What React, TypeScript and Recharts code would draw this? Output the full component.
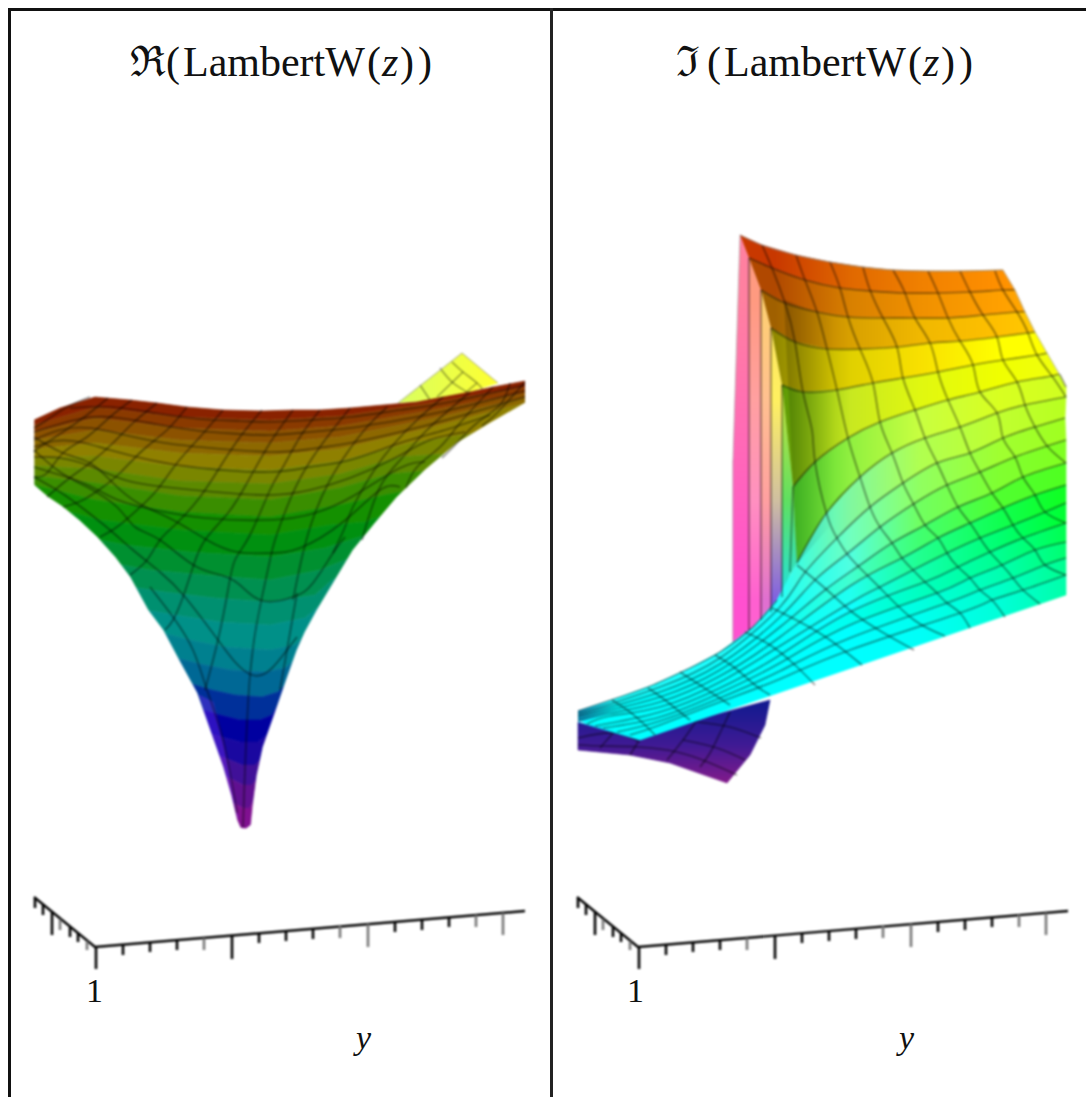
import React from "react";
import { ScatterChart, Scatter, XAxis, YAxis } from "recharts";

type Pt = [number, number];

const reContours: Pt[][] = [
  [[34,420],[60,408],[95,397],[130,400],[157,403],[187,407],[223,410],[262,411],[293,410],[320,410],[350,408],[383,405],[417,402],[443,397],[470,392],[493,387],[525,381]],
  [[34,425],[95,407],[180,417],[270,420],[340,416],[410,406],[525,387]],
  [[34,432],[95,418],[180,428],[270,431],[340,426],[415,413],[525,393]],
  [[34,440],[95,430],[180,440],[270,443],[340,437],[420,421],[525,398]],
  [[34,449],[95,443],[180,453],[270,456],[340,449],[425,429],[525,403]],
  [[34,458],[95,456],[180,467],[270,470],[340,461],[410,443],[470,432]],
  [[34,466],[95,469],[180,481],[270,484],[340,474],[400,457],[445,453]],
  [[34,476],[95,483],[180,496],[270,500],[340,488],[390,474],[425,470]],
  [[34,485],[95,500],[180,512],[270,517],[340,505],[385,495],[405,489]],
  [[63,507],[100,520],[180,530],[270,535],[330,525],[365,522],[385,510]],
  [[97,537],[125,545],[190,552],[270,557],[325,548],[350,540],[370,530]],
  [[118,562],[150,570],[205,575],[270,580],[320,570],[345,560],[354,549]],
  [[130,585],[165,592],[215,598],[270,602],[315,595],[332,580],[337,573]],
  [[146,608],[175,615],[220,622],[270,625],[305,618],[318,607],[322,602]],
  [[163,630],[190,640],[225,647],[270,650],[295,645],[306,635],[310,625]],
  [[176,655],[200,664],[230,670],[265,672],[285,668],[295,660],[299,648]],
  [[190,680],[212,690],[235,695],[262,697],[278,692],[285,685],[288,675]],
  [[200,705],[220,715],[240,720],[260,720],[272,715],[278,705],[280,698]],
  [[208,730],[225,738],[240,742],[258,742],[267,735],[272,725],[273,718]],
  [[215,750],[230,760],[242,765],[255,765],[263,757],[265,745],[267,738]],
  [[222,770],[233,780],[243,785],[252,785],[258,778],[260,768],[262,758]],
  [[230,795],[237,805],[243,808],[250,808],[254,800],[255,790],[257,780]],
  [[237,820],[240,827],[243,828],[248,828],[251,825],[252,822],[253,805]],
];
const reBandColors = [
  "#8a2200","#8a3a00","#8c5200","#8d6800","#8f8000","#7a8600","#5c8a00","#3a8e00","#149000",
  "#009010","#009030","#009050","#009070","#009088","#00808f","#006895","#00309a","#0000a0",
  "#1a08a0","#401098","#601090","#801090",
];
const reSilhouetteLeft: Pt[] = [[34,485],[48,497],[63,507],[80,521],[97,537],[115,557],[130,577],[148,610],[163,630],[180,662],[197,693],[210,730],[223,767],[231,795],[237,820],[240,827]];
const reSilhouetteRight: Pt[] = [[525,403],[490,423],[457,443],[425,470],[397,497],[375,523],[353,550],[335,580],[317,610],[305,632],[297,650],[287,678],[277,707],[270,727],[263,747],[257,775],[253,805],[251,825],[247,828]];

// mesh lines of the left surface
const reMeshDown: Pt[][] = [
  [[293,600],[303,553],[315,513],[330,480],[347,453],[367,427],[387,407]],
  [[297,593],[287,650],[280,690]],
  [[333,553],[345,527],[353,507],[373,472],[393,445],[417,420],[443,397]],
  [[362,540],[380,487],[403,457],[427,430],[470,392]],
  [[406,488],[417,467],[440,447],[460,423],[493,387]],
  [[442,458],[457,443],[477,423],[500,405],[510,383]],
  [[482,426],[497,413],[525,382]],
  [[350,408],[325,440],[303,473],[287,507],[275,540],[270,560],[262,597],[250,675],[243,827]],
  [[320,410],[300,437],[283,467],[270,490],[250,535],[235,560],[228,590],[218,640],[205,690]],
  [[293,410],[270,443],[247,483],[228,513],[205,540],[193,567],[183,597],[173,620],[165,630]],
  [[262,410],[240,437],[220,467],[200,497],[177,523],[160,540],[147,560],[130,575]],
  [[223,410],[200,437],[177,463],[157,490],[137,510],[117,527],[100,537]],
  [[187,407],[167,430],[143,450],[120,473],[103,487],[83,500],[63,507]],
  [[157,403],[133,423],[113,443],[90,463],[67,480],[47,497]],
  [[132,400],[110,417],[87,437],[63,453],[47,473],[34,477]],
  [[108,398],[87,415],[63,432],[40,447],[34,452]],
  [[90,397],[67,407],[47,420],[34,428]],
  [[150,587],[173,617],[193,650],[207,690],[223,740],[237,813]],
];
const reMeshAcross: Pt[][] = [
  [[70,408],[110,407],[155,413],[200,419],[240,421],[270,422],[310,420],[350,417],[400,410],[450,402],[525,385]],
  [[34,432],[75,420],[110,417],[155,424],[200,431],[240,434],[270,435],[310,432],[350,428],[400,420],[450,410],[525,391]],
  [[34,440],[60,430],[90,428],[125,435],[165,443],[210,448],[270,452],[310,449],[350,443],[400,432],[450,419],[525,397]],
  [[34,447],[55,441],[80,442],[110,450],[150,460],[200,468],[270,472],[310,467],[350,460],[400,443],[445,430],[490,415]],
  [[34,457],[60,458],[90,466],[125,480],[165,487],[215,492],[270,495],[310,490],[350,478],[395,458],[430,440],[465,432]],
  [[34,467],[60,475],[88,485],[118,500],[155,510],[205,518],[270,520],[315,513],[355,495],[400,468],[425,462]],
  [[34,437],[63,453],[90,463],[113,483],[138,503],[173,520],[207,540],[237,552],[270,553],[300,548],[343,522],[380,490],[400,487]],
  [[34,450],[60,472],[87,487],[117,507],[135,527],[160,540],[197,567],[233,580],[260,600],[293,597],[313,583],[333,553],[345,537]],
  [[34,477],[60,492],[85,510],[110,530],[133,550],[160,572],[185,597],[218,640],[235,662],[252,675],[270,670],[287,650],[297,637]],
];
const reFlap: Pt[] = [[398,403],[462,353],[498,383],[470,392],[417,402]];
const reFlapMesh: Pt[][] = [
  [[420,385],[430,400]],
  [[452,362],[463,372],[477,383],[483,390]],
  [[440,368],[452,382],[467,392]],
  [[463,372],[437,397]],
  [[477,383],[463,395]],
];
const reVioletSide: Pt[] = [[199,695],[213,702],[225,750],[238,818],[231,795],[218,760]];

// ---- right surface: mesh arcs, each from the wall or sheet to the right edge
const imTopEdge: Pt[] = [[740,235],[762,245],[796,255],[830,262],[863,267],[893,270],[928,271],[960,271],[1003,270]];
const imArcs: Pt[][] = [
  [[749,258],[772,268],[805,280],[840,288],[870,291],[905,293],[938,293],[970,292],[1003,290],[1015,290]],
  [[761,290],[785,303],[817,312],[848,317],[883,318],[915,318],[948,318],[983,315],[1017,312],[1025,312]],
  [[771,328],[795,342],[827,349],[860,349],[897,347],[930,343],[960,341],[997,337],[1028,333],[1035,332]],
  [[782,385],[803,392],[837,390],[873,383],[903,378],[938,372],[973,365],[1003,360],[1037,355],[1047,353]],
  [[793,487],[815,462],[848,438],[880,422],[915,410],[948,400],[980,392],[1017,382],[1052,376],[1060,375],[1066,387]],
  [[797,563],[825,515],[860,477],[892,453],[925,438],[960,427],[997,413],[1025,405],[1066,397]],
];
const imSheetTop: Pt[] = [[578,711],[620,697],[653,685],[690,668],[720,652],[753,627],[777,600]];
const imSheetArcs: Pt[][] = [
  [[578,713],[610,704],[660,687],[720,658],[780,607],[803,575],[837,538],[870,507],[903,483],[937,463],[970,453],[1003,438],[1035,427],[1065,418]],
  [[578,715],[610,707],[660,692],[720,664],[780,617],[815,580],[848,553],[880,527],[915,503],[947,485],[980,472],[1015,457],[1066,440]],
  [[578,717],[610,710],[660,697],[720,670],[780,627],[825,590],[860,565],[892,543],[925,525],[958,507],[992,493],[1023,477],[1066,463]],
  [[578,720],[610,713],[660,702],[720,676],[780,637],[850,586],[902,558],[938,538],[970,523],[1003,508],[1035,495],[1066,485]],
  [[587,724],[610,716],[660,707],[720,682],[780,646],[850,603],[880,587],[913,570],[947,553],[980,538],[1013,525],[1045,512],[1066,503]],
  [[595,726],[660,712],[720,688],[780,655],[850,612],[925,582],[958,567],[990,552],[1023,538],[1066,523]],
  [[603,728],[660,717],[720,693],[780,663],[850,625],[937,593],[970,578],[1002,565],[1035,550],[1066,542]],
  [[617,732],[660,721],[720,698],[780,671],[850,638],[947,603],[980,590],[1013,578],[1045,565],[1066,558]],
  [[630,735],[660,725],[720,702],[780,679],[850,650],[960,613],[992,600],[1023,590],[1066,575]],
];
const imBottomEdge: Pt[] = [[578,722],[640,740],[1066,595]];
const imRightEdge: Pt[] = [[1003,270],[1015,290],[1025,312],[1035,332],[1047,353],[1060,375],[1066,387]];

// colours of the bands between arcs, sampled at imStopX from left to right
const imStopX = [775, 850, 920, 1000, 1066];
const imBandColors = [
  ["#c83800","#e06800","#f08000","#ff9000","#ffa000"],
  ["#b04800","#d88000","#f09000","#ffa000","#ffb000"],
  ["#a06000","#d8a000","#f0b800","#ffc000","#ffd000"],
  ["#908800","#e0d000","#f8e000","#ffff00","#ffff00"],
  ["#509000","#c8e820","#e0f810","#f0ff00","#f0ff10"],
  ["#30c020","#90f040","#c8ff40","#d8ff20","#d0ff20"],
  ["#20ffff","#80f8a0","#b0ff50","#c0ff30","#b8ff20"],
  ["#10ffff","#70ffc0","#90ff60","#a0ff30","#a0ff20"],
  ["#00ffff","#50ffe0","#70ff60","#80ff30","#80ff20"],
  ["#00ffff","#40ffd0","#40ff70","#50ff30","#50ff20"],
  ["#00ffff","#20fff0","#20ff90","#10ff50","#10ff20"],
  ["#00ffff","#10ffff","#10ffb0","#00ff70","#00ff30"],
  ["#00ffff","#00fff0","#00ffc0","#00ff90","#00ff50"],
  ["#00ffff","#00ffff","#00ffe0","#00ffb0","#00ff70"],
  ["#00ffff","#00ffff","#00fff0","#00ffc8","#00ff90"],
  ["#00ffff","#00ffff","#00fff8","#00ffd8","#00ffa8"],
];

// mesh lines of the right surface running from the top or sheet edge down to the bottom edge
const imMeshDown: Pt[][] = [
  [[762,245],[772,268],[785,303],[795,342],[803,392],[812,430],[815,462],[827,515],[837,538],[848,555],[867,575],[885,593],[914,620],[945,636]],
  [[796,255],[805,280],[817,312],[827,349],[837,390],[848,438],[860,477],[870,507],[880,527],[892,543],[902,558],[913,570],[925,582],[937,593],[947,603],[960,613],[970,628]],
  [[830,262],[840,288],[848,317],[860,349],[873,383],[880,422],[892,453],[903,483],[913,503],[925,525],[938,538],[947,553],[958,567],[970,578],[980,590],[992,600],[1005,617]],
  [[863,267],[870,290],[883,318],[897,347],[903,378],[915,410],[925,438],[937,463],[947,485],[958,507],[970,523],[980,538],[990,552],[1002,565],[1013,578],[1023,590],[1040,604]],
  [[893,270],[905,293],[915,318],[930,343],[938,372],[948,400],[960,427],[970,453],[980,472],[992,493],[1003,508],[1013,525],[1023,538],[1035,550],[1045,565],[1066,575]],
  [[928,271],[938,293],[948,318],[960,341],[973,365],[980,392],[997,413],[1003,438],[1015,457],[1023,477],[1035,495],[1045,512],[1066,523]],
  [[960,271],[970,292],[983,315],[997,337],[1003,360],[1017,382],[1025,405],[1035,427],[1048,447],[1066,463]],
  [[995,271],[1003,290],[1017,312],[1028,333],[1037,355],[1052,376],[1066,397]],
  [[797,565],[827,590],[852,612],[882,632],[914,650]],
  [[772,608],[800,622],[830,640],[862,665]],
  [[745,632],[770,645],[795,665],[815,685]],
  [[715,655],[735,668],[755,685],[770,695]],
  [[680,672],[700,685],[715,695],[730,705]],
  [[648,688],[665,700],[680,712],[690,720]],
  [[612,700],[630,712],[645,725],[655,735]],
];

// the pink wall: strips between the arcs as they drop, top to bottom colours
const imWallStrips: Pt[][] = [
  [[740,235],[749,258],[749,630],[733,642],[733,460]],
  [[749,258],[761,290],[761,620],[749,630]],
  [[761,290],[771,328],[771,612],[761,620]],
  [[771,328],[782,385],[782,597],[771,612]],
  [[782,385],[793,487],[797,563],[790,575],[782,597]],
];
const imWallColors = [
  ["#ff80a0","#ff70b0","#ff60c0","#ff50d0"],
  ["#ff9a80","#ffa0a0","#ff90c0","#ff60d0"],
  ["#ffd070","#ffc090","#ffa0a0","#e070d0"],
  ["#ffe060","#fff060","#d0c0a0","#8060e0"],
  ["#c0d040","#c0e040","#60e060","#20e0e0"],
];
const imWallStopY = [300, 400, 500, 600];
const imWallLines: Pt[][] = [
  [[749,258],[749,630]],
  [[761,290],[761,620]],
  [[771,328],[771,612]],
  [[782,385],[782,597]],
  [[793,487],[790,572]],
];

// the purple underside seen below the sheet
const imUnder: Pt[] = [[578,722],[578,750],[630,755],[670,763],[727,783],[750,755],[765,725],[770,700],[640,735]];
const imUnderMesh: Pt[][] = [
  [[730,712],[720,733],[710,753],[700,767]],
  [[697,720],[683,740],[667,760]],
  [[638,742],[630,755]],
  [[613,733],[600,748]],
  [[578,738],[613,733],[640,742]],
  [[578,745],[603,746],[638,747],[677,752],[710,763],[737,775]],
  [[683,740],[717,748],[745,760]],
  [[697,722],[730,727],[761,738]],
];

// ---- 3D axis ticks: x, top of tick, bottom of tick, grey or black
const axisBase: Pt[] = [[34,897],[95,947],[525,911]];
const tickRows: [number, number, number, string][] = [
  [35,898,908,"k"],[43,904,915,"k"],[52,912,935,"k"],[60,919,930,"g"],[70,927,937,"k"],[78,933,942,"k"],[87,941,950,"g"],
  [96,947,969,"k"],[123,945,955,"k"],[150,942,952,"k"],[177,940,950,"k"],[204,938,950,"g"],[232,935,959,"k"],
  [259,933,943,"k"],[286,931,941,"k"],[313,929,939,"k"],[340,926,938,"g"],[368,924,947,"g"],[395,922,932,"k"],
  [422,920,930,"k"],[449,917,927,"k"],[476,915,927,"g"],[503,913,935,"g"],
];
const rightPanelShift = 543;

const titleReal = [["ℜ",130,false],["(",166,false],["LambertW",183,false],["(",367,false],["z",382,true],[")",400,false],[")",418,false]] as const;
const titleImag = [["ℑ",676,false],["(",707,false],["LambertW",724,false],["(",908,false],["z",923,true],[")",941,false],[")",959,false]] as const;

const toPoints = (pts: Pt[]) => pts.map(([x, y]) => ({ x, y }));
const noDot = () => <g />;
const serif = '"Liberation Serif", "DejaVu Serif", serif';

function polygon(key: string, pts: Pt[], fill: string, opacity = 1) {
  return (
    <Scatter
      key={key}
      data={toPoints(pts)}
      isAnimationActive={false}
      shape={noDot}
      line={{ fill, stroke: fill, strokeWidth: 0.6, fillOpacity: opacity, strokeOpacity: opacity }}
    />
  );
}

function polyline(key: string, pts: Pt[], stroke = "#000", opacity = 0.42, width = 1.7, curve = "natural") {
  return (
    <Scatter
      key={key}
      data={toPoints(pts)}
      isAnimationActive={false}
      shape={noDot}
      lineJointType={curve as "natural"}
      line={{ fill: "none", stroke, strokeOpacity: opacity, strokeWidth: width }}
    />
  );
}

const band = (a: Pt[], b: Pt[]): Pt[] => [...a, ...[...b].reverse()];

// push a contour's ends past the silhouette, the white masks trim them back
const widen = (c: Pt[]): Pt[] =>
  c.map(([x, y], i) => {
    if (i === 0 && x > 34) return [x - 12, y] as Pt;
    if (i === c.length - 1 && x < 525) return [x + 12, y] as Pt;
    return [x, y] as Pt;
  });

function axisMarks(prefix: string, shift: number) {
  const move = (pts: Pt[]) => pts.map(([x, y]) => [x + shift, y] as Pt);
  return [
    polyline(`${prefix}-base`, move(axisBase), "#000", 1, 2.4, "linear"),
    ...tickRows.map(([x, top, bottom, tone], i) =>
      polyline(`${prefix}-t${i}`, move([[x, top], [x, bottom]]), tone === "g" ? "#777" : "#000", 1, 2.6, "linear")
    ),
  ];
}

const imSheetTopFull: Pt[] = [...imSheetTop, ...imArcs[5]];
const bandPairs: [Pt[], Pt[]][] = [
  [imTopEdge, imArcs[0]],
  [imArcs[0], imArcs[1]],
  [imArcs[1], imArcs[2]],
  [imArcs[2], imArcs[3]],
  [imArcs[3], imArcs[4]],
  [imArcs[4], imArcs[5]],
  [imSheetTopFull, imSheetArcs[0]],
  ...imSheetArcs.slice(0, -1).map((a, i) => [a, imSheetArcs[i + 1]] as [Pt[], Pt[]]),
  [imSheetArcs[8], imBottomEdge],
];

function Label({ text, x, y, size, italic }: { text: string; x: number; y: number; size: number; italic?: boolean }) {
  return (
    <span style={{ position: "absolute", left: x, top: y, fontFamily: serif, fontSize: size, lineHeight: 1, fontStyle: italic ? "italic" : "normal", color: "#111", whiteSpace: "pre" }}>
      {text}
    </span>
  );
}

export default function App() {
  return (
    <div style={{ position: "absolute", left: 0, top: 0, width: 1086, height: 1097, background: "#fff", overflow: "hidden" }}>
      <div style={{ position: "absolute", left: 0, top: 0, filter: "blur(0.8px)" }}>
        <ScatterChart width={1086} height={1097} margin={{ top: 0, right: 0, bottom: 0, left: 0 }}>
          <defs>
            <linearGradient id="flap" gradientUnits="userSpaceOnUse" x1={398} y1={0} x2={498} y2={0}>
              <stop offset="0" stopColor="#d8ff60" />
              <stop offset="1" stopColor="#ffff30" />
            </linearGradient>
            <linearGradient id="under" gradientUnits="userSpaceOnUse" x1={0} y1={705} x2={0} y2={785}>
              <stop offset="0" stopColor="#141a90" />
              <stop offset="0.5" stopColor="#3f1a94" />
              <stop offset="1" stopColor="#851a8a" />
            </linearGradient>
            <linearGradient id="sheetFade" gradientUnits="userSpaceOnUse" x1={578} y1={0} x2={615} y2={0}>
              <stop offset="0" stopColor="#1080c0" stopOpacity={0.75} />
              <stop offset="1" stopColor="#1080c0" stopOpacity={0} />
            </linearGradient>
            <linearGradient id="wallShade" gradientUnits="userSpaceOnUse" x1={784} y1={0} x2={835} y2={0}>
              <stop offset="0" stopColor="#000" stopOpacity={0.18} />
              <stop offset="1" stopColor="#000" stopOpacity={0} />
            </linearGradient>
            {imBandColors.map((stops, i) => (
              <linearGradient key={i} id={`imBand${i}`} gradientUnits="userSpaceOnUse" x1={imStopX[0]} y1={0} x2={imStopX[4]} y2={0}>
                {stops.map((c, j) => (
                  <stop key={j} offset={(imStopX[j] - imStopX[0]) / (imStopX[4] - imStopX[0])} stopColor={c} />
                ))}
              </linearGradient>
            ))}
            {imWallColors.map((stops, i) => (
              <linearGradient key={i} id={`imWall${i}`} gradientUnits="userSpaceOnUse" x1={0} y1={imWallStopY[0]} x2={0} y2={imWallStopY[3]}>
                {stops.map((c, j) => (
                  <stop key={j} offset={(imWallStopY[j] - imWallStopY[0]) / (imWallStopY[3] - imWallStopY[0])} stopColor={c} />
                ))}
              </linearGradient>
            ))}
          </defs>
          <XAxis type="number" dataKey="x" domain={[0, 1086]} hide />
          <YAxis type="number" dataKey="y" domain={[0, 1097]} reversed hide />

          {polygon("flap", reFlap, "url(#flap)")}
          {reFlapMesh.map((l, i) => polyline(`flap-${i}`, l, "#000", 0.4, 1.4))}
          {polyline("flap-edge", [[398,403],[462,353],[498,383]], "#999", 0.8, 1, "linear")}

          {reBandColors.map((c, i) => polygon(`re-${i}`, band(widen(reContours[i]), widen(reContours[i + 1])), c))}
          {polygon("re-violet", reVioletSide, "#8030ff", 0.35)}
          {polygon("re-mask-l", [...reSilhouetteLeft, [240,850], [18,850], [18,485]], "#fff")}
          {polygon("re-mask-r", [...reSilhouetteRight, [247,850], [545,850], [545,403]], "#fff")}
          {polygon("re-clip-l", [[18,400],[34,400],[34,490],[18,490]], "#fff")}
          {polygon("re-clip-r", [[525,370],[545,370],[545,410],[525,410]], "#fff")}
          {reMeshDown.map((l, i) => polyline(`re-d${i}`, l))}
          {reMeshAcross.map((l, i) => polyline(`re-a${i}`, l))}

          {polygon("under", imUnder, "url(#under)")}
          {imUnderMesh.map((l, i) => polyline(`un-${i}`, l))}
          {imWallStrips.map((s, i) => polygon(`wall-${i}`, s, `url(#imWall${i})`))}
          {bandPairs.map(([a, b], i) => polygon(`im-${i}`, band(a, b), `url(#imBand${i})`))}
          {polygon("wall-shade", [[784,300],[835,320],[835,520],[797,563],[793,487]], "url(#wallShade)")}
          {polygon("sheet-fade", [[578,711],[615,699],[615,712],[578,722]], "url(#sheetFade)")}
          {imWallLines.map((l, i) => polyline(`wl-${i}`, l))}
          {imArcs.map((l, i) => polyline(`ia-${i}`, l))}
          {imSheetArcs.map((l, i) => polyline(`is-${i}`, l))}
          {imMeshDown.map((l, i) => polyline(`id-${i}`, l))}
          {polyline("sheet-top-line", imSheetTop, "#000", 0.5, 1.2)}
          {polyline("im-top", imTopEdge, "#888", 0.8, 1)}
          {polyline("im-right", imRightEdge, "#aaa", 0.8, 1, "linear")}
          {polyline("im-left", [[740,235],[733,460],[733,642]], "#999", 0.6, 1, "linear")}

          {axisMarks("l", 0)}
          {axisMarks("r", rightPanelShift)}
        </ScatterChart>
      </div>
      <div style={{ position: "absolute", left: 8, top: 8, width: 1078, height: 2.5, background: "#111" }} />
      <div style={{ position: "absolute", left: 8, top: 8, width: 2.5, height: 1089, background: "#111" }} />
      <div style={{ position: "absolute", left: 550, top: 8, width: 3, height: 1089, background: "#222" }} />
      {titleReal.map(([t, x, it], i) => <Label key={i} text={t} x={x} y={41} size={42} italic={it} />)}
      {titleImag.map(([t, x, it], i) => <Label key={i} text={t} x={x} y={41} size={42} italic={it} />)}
      <Label text="1" x={86} y={974} size={34} />
      <Label text="1" x={627} y={974} size={34} />
      <Label text="y" x={356} y={1021} size={34} italic />
      <Label text="y" x={899} y={1021} size={34} italic />
    </div>
  );
}
